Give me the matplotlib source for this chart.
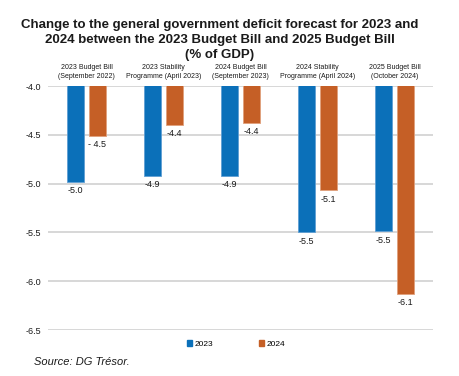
"""Deficit forecast revisions, 2023 Budget Bill to 2025 Budget Bill."""
import matplotlib
matplotlib.use("Agg")

import matplotlib.pyplot as plt
import numpy as np
from matplotlib.patches import Patch

plt.rcParams["font.family"] = ["Liberation Sans", "DejaVu Sans"]

CATEGORIES = [
    "2023 Budget Bill\n(September 2022)",
    "2023 Stability\nProgramme (April 2023)",
    "2024 Budget Bill\n(September 2023)",
    "2024 Stability\nProgramme (April 2024)",
    "2025 Budget Bill\n(October 2024)",
]
Y2023 = np.array([-4.98, -4.92, -4.92, -5.50, -5.49])
Y2024 = np.array([-4.51, -4.40, -4.38, -5.07, -6.13])
LABELS_2023 = ["-5.0", "-4.9", "-4.9", "-5.5", "-5.5"]
LABELS_2024 = ["- 4.5", "-4.4", "-4.4", "-5.1", "-6.1"]
YTICKS = [-4.0, -4.5, -5.0, -5.5, -6.0, -6.5]

BLUE = "#0b70b9"
ORANGE = "#c55f26"
TEXT = "#1a1a1a"

fig = plt.figure(figsize=(4.59, 3.76), dpi=100)
ax = fig.add_axes([48 / 459, 1 - 330 / 376, 385 / 459, 244 / 376])

x = np.arange(len(CATEGORIES))
w = 0.22
off = 0.14
ax.bar(x - off, Y2023, w, color=BLUE, edgecolor="#5f9fd3", lw=0.6, zorder=3)
ax.bar(x + off, Y2024, w, color=ORANGE, edgecolor="#e0a07c", lw=0.6, zorder=3)

for xi, v, s in zip(x - off, Y2023, LABELS_2023):
    ax.annotate(s, (xi, v), xytext=(0, -3), textcoords="offset points",
                ha="center", va="top", fontsize=6.5, color=TEXT)
for xi, v, s in zip(x + off, Y2024, LABELS_2024):
    ax.annotate(s, (xi, v), xytext=(0, -3), textcoords="offset points",
                ha="center", va="top", fontsize=6.5, color=TEXT)

ax.set_xlim(-0.5, len(CATEGORIES) - 0.5)
ax.set_ylim(-6.5, -4.0)
ax.set_yticks(YTICKS)
ax.set_yticklabels([f"{t:.1f}" for t in YTICKS], fontsize=6.5, color=TEXT)
ax.tick_params(axis="y", length=0, pad=5)
ax.tick_params(axis="x", length=0, labelbottom=False)
ax.yaxis.grid(True, color="#d4d4d4", lw=1.3, zorder=0)
ax.set_axisbelow(True)
for spine in ax.spines.values():
    spine.set_visible(False)

# category names sit above the plot, like column headers
for xi, name in zip(x, CATEGORIES):
    ax.annotate(name, (xi, -4.0), xytext=(0, 4.5), textcoords="offset points",
                ha="center", va="bottom", fontsize=5, color=TEXT,
                linespacing=1.3)

fig.text(220 / 459, 1 - 19 / 376,
         "Change to the general government deficit forecast for 2023 and\n"
         "2024 between the 2023 Budget Bill and 2025 Budget Bill\n"
         "(% of GDP)",
         ha="center", va="top", fontsize=9.5, fontweight="bold",
         color=TEXT, linespacing=1.32)

handles = [Patch(color=BLUE, label="2023"), Patch(color=ORANGE, label="2024")]
fig.legend(handles=handles, loc="center", ncol=2,
           bbox_to_anchor=(236 / 459, 1 - 344 / 376), frameon=False,
           fontsize=6, handlelength=0.6, handleheight=0.6,
           handletextpad=0.3, columnspacing=5.5)

fig.text(34 / 459, 1 - 362 / 376, "Source: DG Trésor.", ha="left",
         va="center", fontsize=8, style="italic", color=TEXT)

fig.savefig("out.png", dpi=100, facecolor="white")
